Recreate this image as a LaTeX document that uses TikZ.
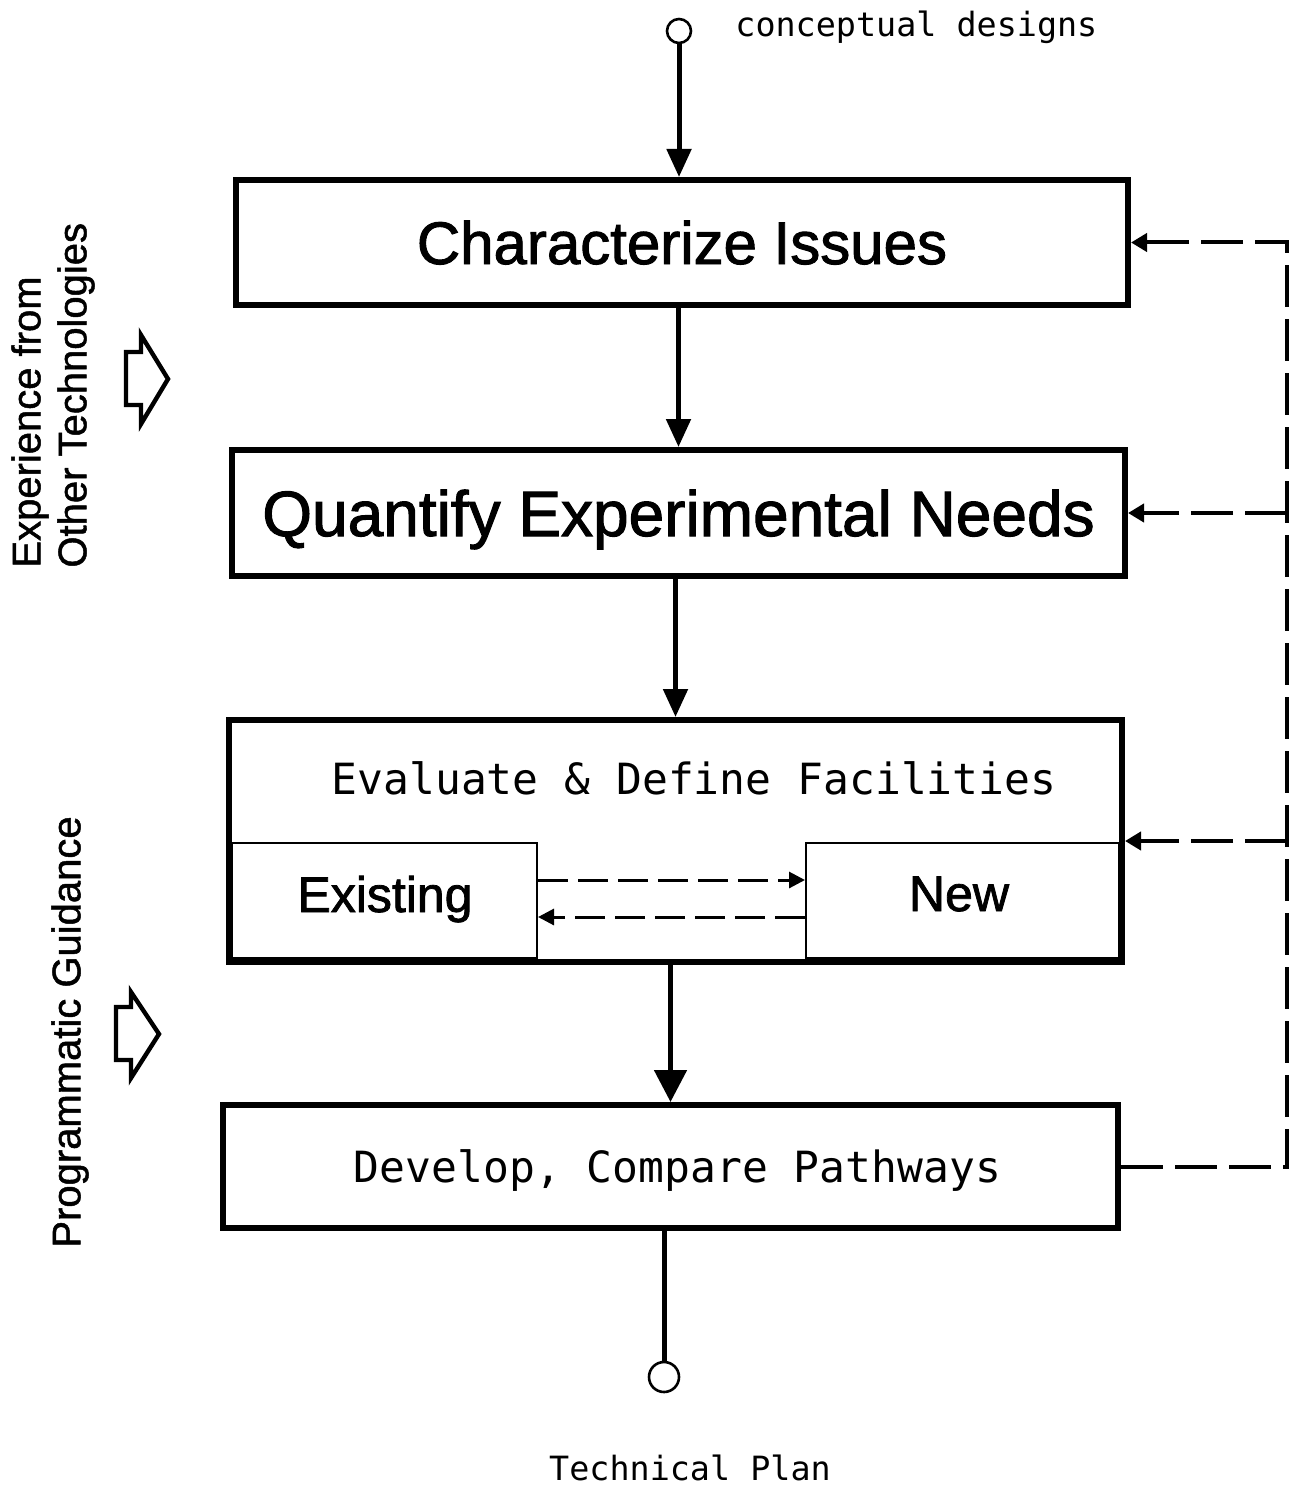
\documentclass[tikz,border=0pt]{standalone}
\usepackage{fontspec}
\setmainfont{Liberation Sans}
\newfontfamily\boxfont[FakeBold=1.6]{Liberation Sans}
\newfontfamily\sidefont[FakeBold=1.2]{Liberation Sans}
\newfontfamily\monofont{DejaVu Sans Mono}
\usetikzlibrary{arrows.meta}
\begin{document}
\begin{tikzpicture}[x=0.5pt,y=-0.5pt,
  box/.style={draw, line width=3pt, inner sep=0pt, align=center},
  inbox/.style={draw, line width=1pt, inner sep=0pt},
  flow/.style={line width=2.5pt, -{Triangle[length=14pt,width=12pt]}},
  bigflow/.style={line width=2.5pt, -{Triangle[length=16pt,width=16pt]}},
  fb/.style={line width=2pt, dash pattern=on 21pt off 6pt},
  fbarrow/.style={fb, -{Triangle[length=8pt,width=9pt]}},
  inarrow/.style={line width=1.5pt, dash pattern=on 15pt off 5pt, -{Triangle[length=8pt,width=8pt]}},
  blockarrow/.style={line width=2.2pt, line join=miter},
  term/.style={circle, draw, line width=1.3pt, inner sep=0pt},
  monotext/.style={font=\monofont\fontsize{21.5}{26}\selectfont},
  smallmono/.style={font=\monofont\fontsize{16.7}{20}\selectfont},
  side/.style={font=\sidefont\fontsize{20}{24}\selectfont, rotate=90, anchor=west, inner sep=0pt}
]
\useasboundingbox (0,0) rectangle (1295,1487);

% terminals
\node[term, minimum size=12pt] (start) at (679,31) {};
\node[smallmono, anchor=west, inner sep=0pt] (cd) at (735,27) {conceptual designs};
\node[term, minimum size=15pt] (finish) at (664,1377) {};
\node[smallmono, inner sep=0pt] (tp) at (690,1468) {Technical Plan};

% main boxes
\node[box, minimum width=446pt, minimum height=62.5pt,
      font=\boxfont\fontsize{30}{36}\selectfont, text height=21.5pt, text depth=0pt]
      (b1) at (682,242.5) {Characterize Issues};
\node[box, minimum width=446.5pt, minimum height=63pt,
      font=\boxfont\fontsize{32}{38}\selectfont, text height=23pt, text depth=0pt]
      (b2) at (678.5,513) {Quantify Experimental Needs};
\node[box, minimum width=446.5pt, minimum height=121pt] (b3) at (675.5,841) {};
\node[monotext, inner sep=0pt] (b3t) at (694,778) {Evaluate \& Define Facilities};
\node[inbox, minimum width=152.5pt, minimum height=57.5pt] (ex) at (384.5,900.5) {};
\node[font=\boxfont\fontsize{25}{30}\selectfont, inner sep=0pt, text height=18pt, text depth=0pt]
      (ext) at (385,894) {Existing};
\node[inbox, minimum width=156.5pt, minimum height=57.5pt] (nw) at (962.5,900.5) {};
\node[font=\boxfont\fontsize{25}{30}\selectfont, inner sep=0pt, text height=18pt, text depth=0pt]
      (nwt) at (959,893) {New};
\node[box, minimum width=447.5pt, minimum height=61.5pt, monotext,
      text height=15.5pt, text depth=0pt]
      (b4) at (670.5,1166.5) {\hspace*{7pt}Develop, Compare Pathways};

% flow
\draw[flow] (start.south) -- (start.south |- b1.north);
\draw[flow] (b2.north |- b1.south) -- (b2.north);
\draw[flow] (b3.north |- b2.south) -- (b3.north);
\draw[bigflow] (b4.north |- b3.south) -- (b4.north);
\draw[line width=2.5pt] (finish.north |- b4.south) -- (finish.north);

% inner dashed arrows
\draw[inarrow] (ex.east |- 0,880) -- (nw.west |- 0,880);
\draw[inarrow] (nw.west |- 0,917) -- (ex.east |- 0,917);

% feedback
\coordinate (fbtop) at (1287,242.5);
\draw[fbarrow] (b4.east) -| (fbtop) -- (b1.east);
\draw[fbarrow] (b2.east -| fbtop) -- (b2.east);
\draw[fbarrow] (b3.east -| fbtop) -- (b3.east);

% side labels
\node[side] (exp1) at (30,568) {Experience from};
\node[side] (exp2) at (76,568) {Other Technologies};
\node[side] (pg) at (70,1248) {Programmatic Guidance};

% block arrows
\draw[blockarrow] (126,352) -- (141,352) -- (141,335) -- (168,379) -- (141,424) -- (141,405) -- (126,405) -- cycle;
\draw[blockarrow] (116,1007) -- (131,1007) -- (131,992) -- (159,1034) -- (131,1078) -- (131,1060) -- (116,1060) -- cycle;
\end{tikzpicture}
\end{document}
